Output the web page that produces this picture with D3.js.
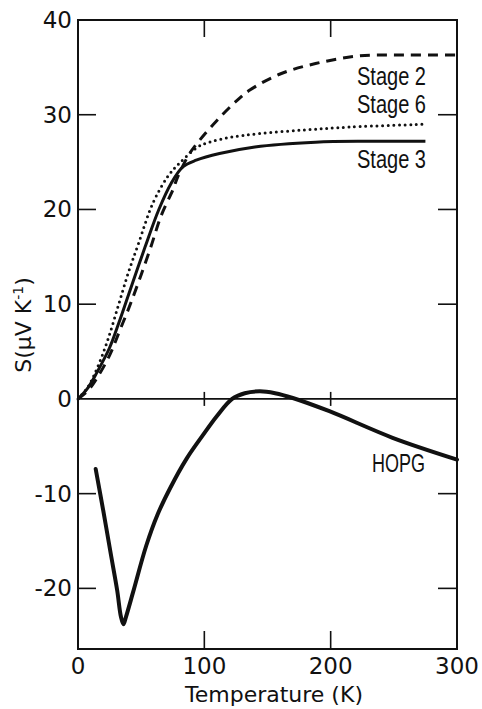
<!DOCTYPE html>
<html lang="en">
<head>
<meta charset="UTF-8">
<script src="https://cdn.jsdelivr.net/npm/d3@7"></script>
<title>Thermopower vs temperature</title>
<style>
  body { margin: 0; background: #fff; }
  svg text { fill: #111; }
</style>
</head>
<body>
<div id="chart"></div>
<script>
// Data: [T (K), S (uV/K)]
var stage3 = [[0,0],[8,1.2],[15,2.8],[25,5.4],[32,7.9],[40,11.0],[53,16.0],[64,20.0],[73.9,22.8],[83,24.5],[93.6,25.2],[112,25.9],[140,26.6],[188,27.1],[230,27.2],[275,27.2]];
var stage6 = [[0,0],[8,1.3],[15,3.2],[23,6.0],[32,9.9],[40,13.4],[47.6,16.3],[59.4,20.7],[71.2,23.5],[80.4,24.9],[94.9,26.6],[104,27.1],[120,27.6],[143,28.0],[180,28.4],[215,28.7],[275,29.0]];
var stage2 = [[0,0],[8,0.9],[15,2.2],[25,4.6],[33,7.2],[42,10.2],[56.8,15.7],[66,19.4],[75.2,22.1],[79.1,23.5],[88.3,25.9],[96.2,27.3],[110,29.4],[125,31.4],[136,32.6],[160,34.3],[188,35.4],[222,36.2],[260,36.3],[300,36.3]];
var hopg = [[14,-7.4],[20,-11.8],[26,-16.4],[31,-20.2],[34,-23.0],[36,-23.8],[38,-23.0],[43.6,-20.4],[54,-15.5],[63,-12.2],[73,-9.4],[86,-6.3],[99,-3.8],[110,-1.8],[122,0.0],[132,0.6],[144,0.8],[156,0.6],[170,0.1],[199,-1.3],[249,-4.1],[300,-6.4]];

var yTicks = [-20, -10, 0, 10, 20, 30, 40];
var xTicks = [0, 100, 200, 300];
var innerX = [100, 200];
var innerY = [-20, -10, 10, 20, 30];

var width = 482, height = 709;
var plot = { x0: 78, x1: 457, y0: 20, y1: 649 };

var svg = d3.select("#chart").append("svg")
    .attr("width", width)
    .attr("height", height);

var x = d3.scaleLinear().domain([0, 300]).range([plot.x0, plot.x1]);
var y = d3.scaleLinear().domain([-26.4, 40]).range([plot.y1, plot.y0]);

// frame
svg.append("rect")
    .attr("x", plot.x0).attr("y", plot.y0)
    .attr("width", plot.x1 - plot.x0).attr("height", plot.y1 - plot.y0)
    .attr("fill", "none").attr("stroke", "#111").attr("stroke-width", 2);

// zero line
svg.append("line")
    .attr("x1", plot.x0).attr("x2", plot.x1)
    .attr("y1", y(0)).attr("y2", y(0))
    .attr("stroke", "#111").attr("stroke-width", 1.6);

// inward ticks
var tk = svg.append("g").attr("stroke", "#111").attr("stroke-width", 1.6);
innerY.forEach(function (v) {
    tk.append("line").attr("x1", plot.x0).attr("x2", plot.x0 + 18).attr("y1", y(v)).attr("y2", y(v));
    tk.append("line").attr("x1", plot.x1).attr("x2", plot.x1 - 19).attr("y1", y(v)).attr("y2", y(v));
});
innerX.forEach(function (v) {
    tk.append("line").attr("x1", x(v)).attr("x2", x(v)).attr("y1", plot.y1).attr("y2", plot.y1 - 18);
    tk.append("line").attr("x1", x(v)).attr("x2", x(v)).attr("y1", plot.y0).attr("y2", plot.y0 + 17);
    tk.append("line").attr("x1", x(v)).attr("x2", x(v)).attr("y1", y(0) - 7).attr("y2", y(0) + 7);
});

// tick labels
svg.append("g").selectAll("text")
    .data(yTicks)
    .enter()
    .append("text")
    .attr("x", plot.x0 - 6)
    .attr("y", function (d) { return y(d) + 8; })
    .attr("text-anchor", "end")
    .attr("font-family", "DejaVu Sans, sans-serif")
    .attr("font-size", "23px")
    .text(function (d) { return d; });

svg.append("g").selectAll("text")
    .data(xTicks)
    .enter()
    .append("text")
    .attr("x", function (d) { return x(d); })
    .attr("y", 674)
    .attr("text-anchor", "middle")
    .attr("font-family", "DejaVu Sans, sans-serif")
    .attr("font-size", "23px")
    .text(function (d) { return d; });

// axis titles
svg.append("text")
    .attr("x", 274).attr("y", 702)
    .attr("text-anchor", "middle")
    .attr("font-family", "DejaVu Sans, sans-serif")
    .attr("font-size", "22px")
    .text("Temperature (K)");

var yl = svg.append("text")
    .attr("transform", "translate(31,325) rotate(-90)")
    .attr("text-anchor", "middle")
    .attr("font-family", "DejaVu Sans, sans-serif")
    .attr("font-size", "22px");
yl.append("tspan").text("S(\u03BCV K");
yl.append("tspan").attr("dy", -8).attr("font-size", "14px").text("-1");
yl.append("tspan").attr("dy", 8).text(")");

// curves
var line = d3.line()
    .x(function (d) { return x(d[0]); })
    .y(function (d) { return y(d[1]); })
    .curve(d3.curveCatmullRom.alpha(0.5));

svg.append("path").datum(stage2)
    .attr("d", line).attr("fill", "none")
    .attr("stroke", "#111").attr("stroke-width", 3)
    .attr("stroke-dasharray", "10,7");

svg.append("path").datum(stage6)
    .attr("d", line).attr("fill", "none")
    .attr("stroke", "#111").attr("stroke-width", 3)
    .attr("stroke-linecap", "round")
    .attr("stroke-dasharray", "0,5.6");

svg.append("path").datum(stage3)
    .attr("d", line).attr("fill", "none")
    .attr("stroke", "#111").attr("stroke-width", 3);

svg.append("path").datum(hopg)
    .attr("d", line).attr("fill", "none")
    .attr("stroke", "#111").attr("stroke-width", 4)
    .attr("stroke-linecap", "round")
    .attr("stroke-linejoin", "round");

// curve labels (condensed face, squeezed to the reference widths)
var labels = [
    { t: "Stage 2", x: 426, y: 85, w: 69 },
    { t: "Stage 6", x: 426, y: 113, w: 69 },
    { t: "Stage 3", x: 426, y: 168, w: 69 },
    { t: "HOPG", x: 425, y: 472, w: 53 }
];
svg.append("g").selectAll("text")
    .data(labels)
    .enter()
    .append("text")
    .attr("x", function (d) { return d.x - d.w; })
    .attr("y", function (d) { return d.y; })
    .attr("textLength", function (d) { return d.w; })
    .attr("lengthAdjust", "spacingAndGlyphs")
    .attr("font-family", "Liberation Sans, sans-serif")
    .attr("font-size", "25px")
    .text(function (d) { return d.t; });
</script>
</body>
</html>
